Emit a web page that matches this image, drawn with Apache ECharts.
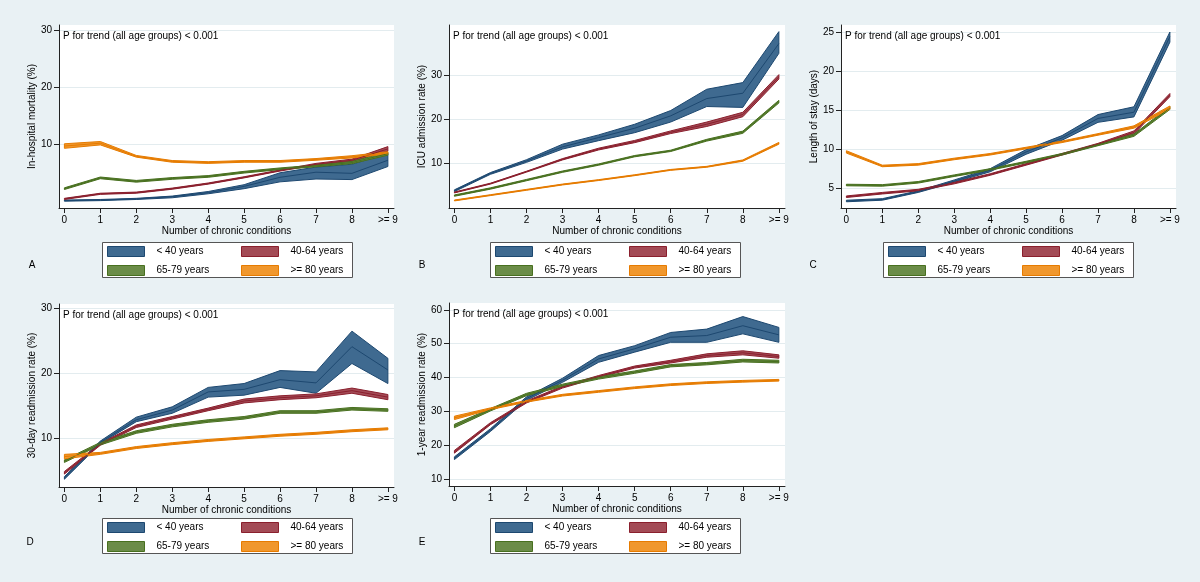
<!DOCTYPE html>
<html><head><meta charset="utf-8">
<script src="https://cdn.jsdelivr.net/npm/echarts@6/dist/echarts.min.js"></script>
<style>html,body{margin:0;padding:0;background:#e9f1f4}#c{width:1200px;height:582px}</style>
</head><body><div id="c"></div>
<script>
// ---------- data ----------
const categories = ['0','1','2','3','4','5','6','7','8','>= 9'];
const groups = ['< 40 years','40-64 years','65-79 years','>= 80 years'];
const panelLetters = ['A','B','C','D','E'];
const yTitles = ['In-hospital mortality (%)','ICU admission rate (%)','Length of stay (days)','30-day readmission rate (%)','1-year readmission rate (%)'];
const trendText = 'P for trend (all age groups) < 0.001';
const yTicksA = [10,20,30];
const yTicksB = [10,20,30];
const yTicksC = [5,10,15,20,25];
const yTicksD = [10,20,30];
const yTicksE = [10,20,30,40,50,60];

// Panel A: in-hospital mortality (%)
const A_u40_mean = [0.1,0.2,0.4,0.8,1.5,2.6,4.2,5.1,4.9,7.2];
const A_u40_lo   = [0.0,0.1,0.3,0.6,1.3,2.2,3.4,3.9,3.8,6.1];
const A_u40_hi   = [0.2,0.3,0.5,0.9,1.7,2.9,5.0,6.0,6.5,8.4];
const A_4064_mean = [0.4,1.3,1.5,2.2,3.1,4.2,5.4,6.5,7.2,9.2];
const A_4064_lo   = [0.3,1.2,1.4,2.1,3.0,4.1,5.3,6.35,7.0,8.8];
const A_4064_hi   = [0.5,1.4,1.6,2.3,3.2,4.3,5.5,6.65,7.4,9.6];
const A_6579_mean = [2.2,4.1,3.5,4.0,4.35,5.1,5.7,6.2,6.8,8.35];
const A_6579_lo   = [2.05,3.95,3.35,3.85,4.2,4.95,5.55,6.05,6.6,8.1];
const A_6579_hi   = [2.35,4.25,3.65,4.15,4.5,5.25,5.85,6.35,7.0,8.6];
const A_80_mean = [9.7,10.2,7.9,7.0,6.8,7.0,7.0,7.35,7.8,8.5];
const A_80_lo   = [9.3,9.9,7.75,6.85,6.65,6.85,6.85,7.2,7.6,8.3];
const A_80_hi   = [10.1,10.5,8.05,7.15,6.95,7.15,7.15,7.5,8.0,8.7];

// Panel B: ICU admission rate (%)
const B_u40_mean = [3.9,7.8,10.6,13.8,15.9,18.0,20.8,24.7,25.9,37.1];
const B_u40_lo   = [3.7,7.6,10.3,13.3,15.2,17.0,19.4,22.9,22.7,34.9];
const B_u40_hi   = [4.1,8.0,10.9,14.4,16.5,18.9,22.0,26.8,28.3,39.8];
const B_4064_mean = [3.5,5.5,8.2,11.0,13.3,15.0,17.1,18.9,21.1,29.6];
const B_4064_lo   = [3.4,5.4,8.1,10.85,13.1,14.75,16.8,18.4,20.6,29.1];
const B_4064_hi   = [3.6,5.6,8.3,11.15,13.5,15.25,17.4,19.4,21.6,30.1];
const B_6579_mean = [2.8,4.4,6.3,8.2,9.8,11.7,12.9,15.3,17.1,24.0];
const B_6579_lo   = [2.65,4.25,6.15,8.05,9.65,11.55,12.75,15.1,16.85,23.7];
const B_6579_hi   = [2.95,4.55,6.45,8.35,9.95,11.85,13.05,15.5,17.35,24.3];
const B_80_mean = [1.7,2.9,4.1,5.3,6.3,7.4,8.6,9.3,10.7,14.6];
const B_80_lo   = [1.6,2.8,4.0,5.2,6.2,7.3,8.5,9.2,10.55,14.4];
const B_80_hi   = [1.8,3.0,4.2,5.4,6.4,7.5,8.7,9.4,10.85,14.8];

// Panel C: length of stay (days)
const C_u40_mean = [3.3,3.5,4.5,5.85,7.25,9.6,11.4,13.9,14.7,24.4];
const C_u40_lo   = [3.2,3.4,4.4,5.7,7.05,9.3,11.1,13.4,14.1,23.7];
const C_u40_hi   = [3.4,3.6,4.6,6.0,7.45,9.9,11.7,14.4,15.4,25.0];
const C_4064_mean = [3.85,4.3,4.7,5.6,6.7,8.0,9.3,10.6,12.1,16.9];
const C_4064_lo   = [3.75,4.2,4.6,5.5,6.6,7.9,9.2,10.5,11.9,16.7];
const C_4064_hi   = [3.95,4.4,4.8,5.7,6.8,8.1,9.4,10.7,12.3,17.1];
const C_6579_mean = [5.35,5.3,5.7,6.55,7.35,8.3,9.3,10.5,11.75,15.25];
const C_6579_lo   = [5.25,5.2,5.6,6.45,7.25,8.2,9.2,10.4,11.6,15.05];
const C_6579_hi   = [5.45,5.4,5.8,6.65,7.45,8.4,9.4,10.6,11.9,15.45];
const C_80_mean = [9.6,7.8,8.0,8.7,9.3,10.1,10.9,11.85,12.8,15.3];
const C_80_lo   = [9.45,7.7,7.9,8.6,9.2,10.0,10.8,11.75,12.65,15.1];
const C_80_hi   = [9.75,7.9,8.1,8.8,9.4,10.2,11.0,11.95,12.95,15.5];

// Panel D: 30-day readmission rate (%)
const D_u40_mean = [3.8,9.3,12.8,14.3,17.1,17.5,19.0,18.5,24.1,20.5];
const D_u40_lo   = [3.6,9.1,12.5,13.8,16.3,16.6,17.8,16.9,21.5,18.4];
const D_u40_hi   = [4.0,9.5,13.2,14.8,17.8,18.4,20.4,20.2,26.5,22.3];
const D_4064_mean = [4.6,9.0,11.8,13.1,14.4,15.7,16.2,16.5,17.3,16.3];
const D_4064_lo   = [4.4,8.85,11.6,12.9,14.2,15.4,15.9,16.2,16.9,15.9];
const D_4064_hi   = [4.8,9.15,12.0,13.3,14.6,16.0,16.5,16.8,17.7,16.7];
const D_6579_mean = [6.4,9.1,10.9,11.9,12.6,13.1,14.0,14.0,14.5,14.3];
const D_6579_lo   = [6.2,8.9,10.7,11.7,12.4,12.9,13.8,13.8,14.3,14.1];
const D_6579_hi   = [6.6,9.3,11.1,12.1,12.8,13.3,14.2,14.2,14.7,14.5];
const D_80_mean = [7.1,7.6,8.5,9.1,9.6,10.0,10.4,10.7,11.1,11.4];
const D_80_lo   = [6.75,7.45,8.35,8.95,9.45,9.85,10.25,10.55,10.95,11.25];
const D_80_hi   = [7.45,7.75,8.65,9.25,9.75,10.15,10.55,10.85,11.25,11.55];

// Panel E: 1-year readmission rate (%)
const E_u40_mean = [16.2,24.5,33.8,39.2,45.5,48.5,51.9,52.4,55.3,52.6];
const E_u40_lo   = [15.8,24.1,33.3,38.6,44.5,47.5,50.4,50.4,52.9,50.4];
const E_u40_hi   = [16.6,24.9,34.3,39.8,46.5,49.4,53.3,54.3,58.0,54.8];
const E_4064_mean = [18.1,26.4,32.8,37.2,40.3,43.1,44.7,46.5,47.3,46.2];
const E_4064_lo   = [17.7,26.1,32.5,36.9,40.0,42.8,44.3,46.0,46.7,45.7];
const E_4064_hi   = [18.5,26.7,33.1,37.5,40.6,43.4,45.1,47.0,47.9,46.7];
const E_6579_mean = [25.7,30.5,35.0,37.7,39.9,41.6,43.5,44.1,45.0,44.7];
const E_6579_lo   = [25.2,30.15,34.65,37.35,39.55,41.25,43.15,43.75,44.6,44.3];
const E_6579_hi   = [26.2,30.85,35.35,38.05,40.25,41.95,43.85,44.45,45.4,45.1];
const E_80_mean = [28.1,30.8,33.0,34.8,35.9,37.0,37.9,38.5,38.9,39.2];
const E_80_lo   = [27.6,30.55,32.75,34.55,35.65,36.75,37.65,38.25,38.65,38.95];
const E_80_hi   = [28.6,31.05,33.25,35.05,36.15,37.25,38.15,38.75,39.15,39.45];

// ---------- assembly ----------
const panelMeans = [
  [A_u40_mean,A_4064_mean,A_6579_mean,A_80_mean],
  [B_u40_mean,B_4064_mean,B_6579_mean,B_80_mean],
  [C_u40_mean,C_4064_mean,C_6579_mean,C_80_mean],
  [D_u40_mean,D_4064_mean,D_6579_mean,D_80_mean],
  [E_u40_mean,E_4064_mean,E_6579_mean,E_80_mean]];
const panelLo = [
  [A_u40_lo,A_4064_lo,A_6579_lo,A_80_lo],
  [B_u40_lo,B_4064_lo,B_6579_lo,B_80_lo],
  [C_u40_lo,C_4064_lo,C_6579_lo,C_80_lo],
  [D_u40_lo,D_4064_lo,D_6579_lo,D_80_lo],
  [E_u40_lo,E_4064_lo,E_6579_lo,E_80_lo]];
const panelHi = [
  [A_u40_hi,A_4064_hi,A_6579_hi,A_80_hi],
  [B_u40_hi,B_4064_hi,B_6579_hi,B_80_hi],
  [C_u40_hi,C_4064_hi,C_6579_hi,C_80_hi],
  [D_u40_hi,D_4064_hi,D_6579_hi,D_80_hi],
  [E_u40_hi,E_4064_hi,E_6579_hi,E_80_hi]];
const panelYTicks = [yTicksA,yTicksB,yTicksC,yTicksD,yTicksE];

// layout / style (not data)
const yRanges = [[-1.2,31.0],[0,41.3],[2.4,25.9],[2.4,30.7],[8,62]];
const grids = [
  {left:59, top:25, width:335, height:183},
  {left:449, top:25, width:336, height:183},
  {left:841, top:25, width:335, height:183},
  {left:59, top:304, width:335, height:183},
  {left:449, top:303, width:336, height:183}];
const legendBoxes = [[102,242],[490,242],[883,242],[102,518],[490,518]];
const letterPos = [[32,265],[422,265],[813,265],[30,542],[422,542]];
const fills = ['#3f6a90','#a34b56','#6b8c48','#f0972d'];
const edges = ['#1d4870','#8a1f2d','#48701f','#e67b00'];
const FONT = '"Liberation Sans", Arial, sans-serif';
const xTickVals = categories.map((c,i)=>i);

const pairs = arr => arr.map((v,i)=>[i,v]);

const xAxes = [], yAxes = [], series = [], legends = [], graphics = [];

function bandRenderer(lo, hi, k) {
  return function (params, api) {
    if (params.dataIndex !== 0) return null;
    const upper = hi.map((v,i)=>api.coord([i, v]));
    const lower = lo.map((v,i)=>api.coord([i, v])).reverse();
    return {
      type:'polygon',
      shape:{points: upper.concat(lower)},
      style:{fill:fills[k], stroke:edges[k], lineWidth:1}
    };
  };
}

grids.forEach((g,p)=>{
  xAxes.push({
    type:'value', gridIndex:p, min:-0.15, max:9.17,
    axisLine:{show:true, onZero:false, lineStyle:{color:'#222', width:1}},
    axisTick:{show:true, customValues:xTickVals, length:5, lineStyle:{color:'#222'}},
    axisLabel:{customValues:xTickVals, formatter:v=>categories[Math.round(v)], color:'#000', fontSize:10, fontFamily:FONT, margin:7},
    splitLine:{show:false},
    name:'Number of chronic conditions', nameLocation:'middle', nameGap:17,
    nameTextStyle:{color:'#000', fontSize:10, fontFamily:FONT}
  });
  yAxes.push({
    type:'value', gridIndex:p, min:yRanges[p][0], max:yRanges[p][1],
    axisLine:{show:true, onZero:false, lineStyle:{color:'#222', width:1}},
    axisTick:{show:true, customValues:panelYTicks[p], length:5, lineStyle:{color:'#222'}},
    axisLabel:{customValues:panelYTicks[p], color:'#000', fontSize:10, fontFamily:FONT, margin:7},
    splitLine:{show:true, lineStyle:{color:'#e3ecef', width:1}},
    name:yTitles[p], nameLocation:'middle', nameGap:22, nameRotate:90,
    nameTextStyle:{color:'#000', fontSize:10, fontFamily:FONT}
  });
  groups.forEach((name,k)=>{
    const lo = panelLo[p][k], hi = panelHi[p][k];
    series.push({
      type:'custom', name:name, xAxisIndex:p, yAxisIndex:p, silent:true,
      data: lo.map((v,i)=>[i, v, hi[i]]),
      encode:{x:0, y:[1,2]},
      itemStyle:{color:fills[k]},
      renderItem: bandRenderer(lo, hi, k)
    });
    series.push({
      type:'line', name:name+' mean', xAxisIndex:p, yAxisIndex:p,
      data:pairs(panelMeans[p][k]), symbol:'none', silent:true,
      lineStyle:{color:edges[k], width:1}
    });
  });
  const [bx,by] = legendBoxes[p];
  graphics.push({type:'rect', z:0, shape:{x:bx+0.5, y:by+0.5, width:250, height:35},
    style:{fill:'#fff', stroke:'#555', lineWidth:1}});
  const mkItem = k => ({name:groups[k], icon:'rect',
    itemStyle:{color:fills[k], borderColor:edges[k], borderWidth:1}});
  [[0,2],[1,3]].forEach((cols,ci)=>{
    legends.push({
      orient:'vertical', left:bx+5+ci*134, top:by+4, padding:0,
      itemWidth:37, itemHeight:10, itemGap:8, selectedMode:false,
      data:cols.map(mkItem),
      textStyle:{color:'#000', fontSize:10, fontFamily:FONT, padding:[4,0,0,7]}
    });
  });
  graphics.push({type:'text', z:10, style:{text:panelLetters[p], x:letterPos[p][0], y:letterPos[p][1],
    fill:'#000', font:'10px '+FONT, textAlign:'center', textVerticalAlign:'middle'}});
  graphics.push({type:'text', z:10, style:{text:trendText, x:g.left+4, y:g.top+11,
    fill:'#000', font:'10px '+FONT, textAlign:'left', textVerticalAlign:'middle'}});
});

const chart = echarts.init(document.getElementById('c'), null, {renderer:'canvas'});
chart.setOption({
  backgroundColor:'#e9f1f4',
  animation:false,
  grid: grids.map(g=>Object.assign({show:true, backgroundColor:'#fff', borderWidth:0}, g)),
  xAxis:xAxes, yAxis:yAxes, series, legend:legends, graphic:graphics
});
</script></body></html>
